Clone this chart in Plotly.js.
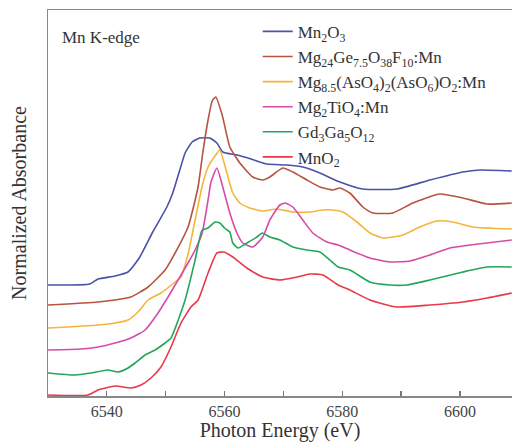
<!DOCTYPE html>
<html>
<head>
<meta charset="utf-8">
<script src="https://cdn.plot.ly/plotly-3.0.1.min.js"></script>
<style>html,body{margin:0;padding:0;background:#fff;}#chart{width:512px;height:442px;}</style>
</head>
<body>
<div id="chart"></div>
<script>
// Series names
const names = [
  "Mn<sub>2</sub>O<sub>3</sub>",
  "Mg<sub>24</sub>Ge<sub>7.5</sub>O<sub>38</sub>F<sub>10</sub>:Mn",
  "Mg<sub>8.5</sub>(AsO<sub>4</sub>)<sub>2</sub>(AsO<sub>6</sub>)O<sub>2</sub>:Mn",
  "Mg<sub>2</sub>TiO<sub>4</sub>:Mn",
  "Gd<sub>3</sub>Ga<sub>5</sub>O<sub>12</sub>",
  "MnO<sub>2</sub>"
];

// Mn2O3
const mn2o3E = [6530.0,6537.1,6538.5,6541.4,6543.6,6545.5,6547.8,6550.2,6551.2,6552.4,6553.3,6554.5,6555.8,6557.5,6558.7,6559.7,6562.1,6564.5,6567.2,6570.6,6573.3,6576.2,6579.6,6583.5,6589.3,6594.9,6600.5,6603.4,6608.8];
const mn2o3A = [1.11,1.12,1.17,1.20,1.24,1.38,1.64,1.89,2.03,2.26,2.43,2.54,2.58,2.58,2.53,2.44,2.41,2.37,2.32,2.31,2.29,2.23,2.14,2.07,2.07,2.16,2.24,2.26,2.25];

// Mg24Ge7.5O38F10:Mn
const mgGeE = [6530.0,6538.5,6541.4,6544.1,6547.0,6549.9,6551.6,6553.8,6555.5,6556.3,6557.2,6557.9,6558.5,6559.6,6560.9,6562.6,6564.8,6566.5,6567.7,6569.9,6571.6,6574.0,6576.2,6578.4,6579.6,6581.3,6583.5,6585.2,6588.6,6592.0,6596.6,6600.5,6604.6,6608.8];
const mgGeA = [0.91,0.94,0.96,0.99,1.09,1.26,1.43,1.69,2.09,2.43,2.76,2.95,2.99,2.81,2.49,2.33,2.19,2.16,2.19,2.28,2.24,2.16,2.09,2.06,2.08,2.03,1.89,1.83,1.83,1.93,2.02,1.98,1.92,1.93];

// Mg8.5(AsO4)2(AsO6)O2:Mn
const mgAsE = [6530.0,6538.5,6541.4,6543.6,6545.3,6547.0,6549.2,6551.6,6552.6,6553.8,6555.0,6556.2,6557.2,6558.5,6559.2,6560.4,6561.4,6562.6,6564.3,6566.5,6568.9,6571.6,6574.5,6576.7,6578.4,6580.1,6582.5,6584.7,6586.9,6590.3,6593.2,6596.1,6598.8,6602.2,6608.8];
const mgAsA = [0.68,0.71,0.73,0.76,0.84,0.96,1.03,1.14,1.19,1.42,1.76,2.10,2.29,2.41,2.46,2.23,2.03,1.93,1.88,1.85,1.87,1.84,1.84,1.86,1.86,1.84,1.74,1.63,1.58,1.61,1.69,1.75,1.74,1.69,1.67];

// Mg2TiO4:Mn
const mgTiE = [6530.0,6535.6,6538.5,6541.4,6544.1,6546.5,6548.7,6550.4,6552.1,6553.8,6555.0,6556.2,6557.2,6557.7,6558.7,6559.7,6560.9,6562.1,6563.1,6564.8,6566.5,6567.7,6569.4,6570.3,6571.6,6573.3,6575.0,6577.4,6579.3,6581.3,6584.7,6588.1,6591.5,6594.9,6598.3,6601.7,6608.8];
const mgTiA = [0.46,0.47,0.49,0.53,0.58,0.66,0.83,0.99,1.16,1.33,1.46,1.63,1.96,2.14,2.28,2.09,1.83,1.63,1.53,1.49,1.59,1.76,1.91,1.93,1.89,1.76,1.63,1.54,1.51,1.46,1.38,1.34,1.35,1.41,1.48,1.51,1.56];

// Gd3Ga5O12
const gggE = [6530.0,6534.6,6537.3,6540.2,6541.9,6543.6,6544.8,6546.5,6548.2,6549.9,6550.9,6553.3,6555.0,6556.2,6557.2,6558.4,6559.2,6560.0,6560.9,6561.4,6562.3,6563.8,6565.5,6566.4,6567.7,6569.4,6571.6,6574.0,6576.2,6577.9,6579.3,6581.3,6584.7,6588.1,6591.0,6594.9,6600.5,6604.6,6608.8];
const gggA = [0.23,0.21,0.23,0.26,0.24,0.28,0.33,0.41,0.46,0.53,0.58,0.96,1.36,1.66,1.68,1.74,1.73,1.68,1.64,1.53,1.48,1.53,1.59,1.63,1.59,1.56,1.49,1.46,1.44,1.36,1.29,1.26,1.14,1.11,1.11,1.16,1.24,1.29,1.29];

// MnO2
const mno2E = [6530.0,6536.8,6538.5,6541.4,6544.1,6545.8,6547.5,6549.2,6550.9,6552.6,6554.3,6555.5,6557.2,6558.7,6559.9,6561.4,6563.8,6566.5,6569.4,6572.3,6574.5,6576.7,6579.3,6581.3,6584.7,6589.3,6594.9,6600.5,6604.6,6608.8];
const mno2A = [0.01,0.01,0.06,0.10,0.08,0.11,0.18,0.29,0.49,0.73,0.89,0.96,1.23,1.43,1.44,1.39,1.28,1.19,1.16,1.19,1.22,1.21,1.11,1.06,0.96,0.89,0.91,0.94,0.98,1.03];

const xTickVals = [6540, 6560, 6580, 6600];

const colors = ["#4a52a8", "#b5553f", "#f6b43a", "#d84aa8", "#23a55a", "#e8394a"];
const xs = [mn2o3E, mgGeE, mgAsE, mgTiE, gggE, mno2E];
const ys = [mn2o3A, mgGeA, mgAsA, mgTiA, gggA, mno2A];

const SERIF = '"Liberation Serif", "Times New Roman", serif';

const traces = names.map((n, i) => ({
  x: xs[i], y: ys[i], name: n, type: 'scatter', mode: 'lines',
  line: {color: colors[i], width: 1.6, shape: 'spline', smoothing: 0.5}
}));

const layout = {
  width: 512, height: 442,
  margin: {l: 48, r: 0, t: 10, b: 46},
  paper_bgcolor: '#fff', plot_bgcolor: '#fff',
  font: {family: SERIF, color: '#333'},
  showlegend: true,
  legend: {
    x: 0.452, y: 0.99, xanchor: 'left', yanchor: 'top',
    bgcolor: 'rgba(0,0,0,0)', borderwidth: 0,
    font: {family: SERIF, size: 17, color: '#333'}, tracegroupgap: 0
  },
  xaxis: {
    range: [6530, 6608.85], tickvals: xTickVals, ticktext: xTickVals.map(String),
    ticks: 'inside', ticklen: 5, tickcolor: '#777', tickwidth: 1.2,
    minor: {dtick: 10, tick0: 6530, ticks: 'inside', ticklen: 5, tickcolor: '#777', tickwidth: 1.2},
    showline: true, linecolor: '#888', linewidth: 1.5, mirror: true,
    showgrid: false, zeroline: false,
    tickfont: {family: SERIF, size: 16, color: '#444'},
    title: {text: 'Photon Energy (eV)', font: {family: SERIF, size: 20, color: '#333'}, standoff: 2}
  },
  yaxis: {
    range: [0, 3.86], showticklabels: false, ticks: '',
    showline: true, linecolor: '#888', linewidth: 1.5, mirror: false,
    showgrid: false, zeroline: false,
    title: {text: 'Normalized Absorbance', font: {family: SERIF, size: 20, color: '#333'}, standoff: 14}
  },
  annotations: [{
    text: 'Mn K-edge', xref: 'paper', yref: 'paper', x: 0.025, y: 0.93,
    xanchor: 'left', yanchor: 'middle', showarrow: false,
    font: {family: SERIF, size: 17, color: '#333'}
  }]
};

Plotly.newPlot('chart', traces, layout, {displayModeBar: false, staticPlot: true});
</script>
</body>
</html>
